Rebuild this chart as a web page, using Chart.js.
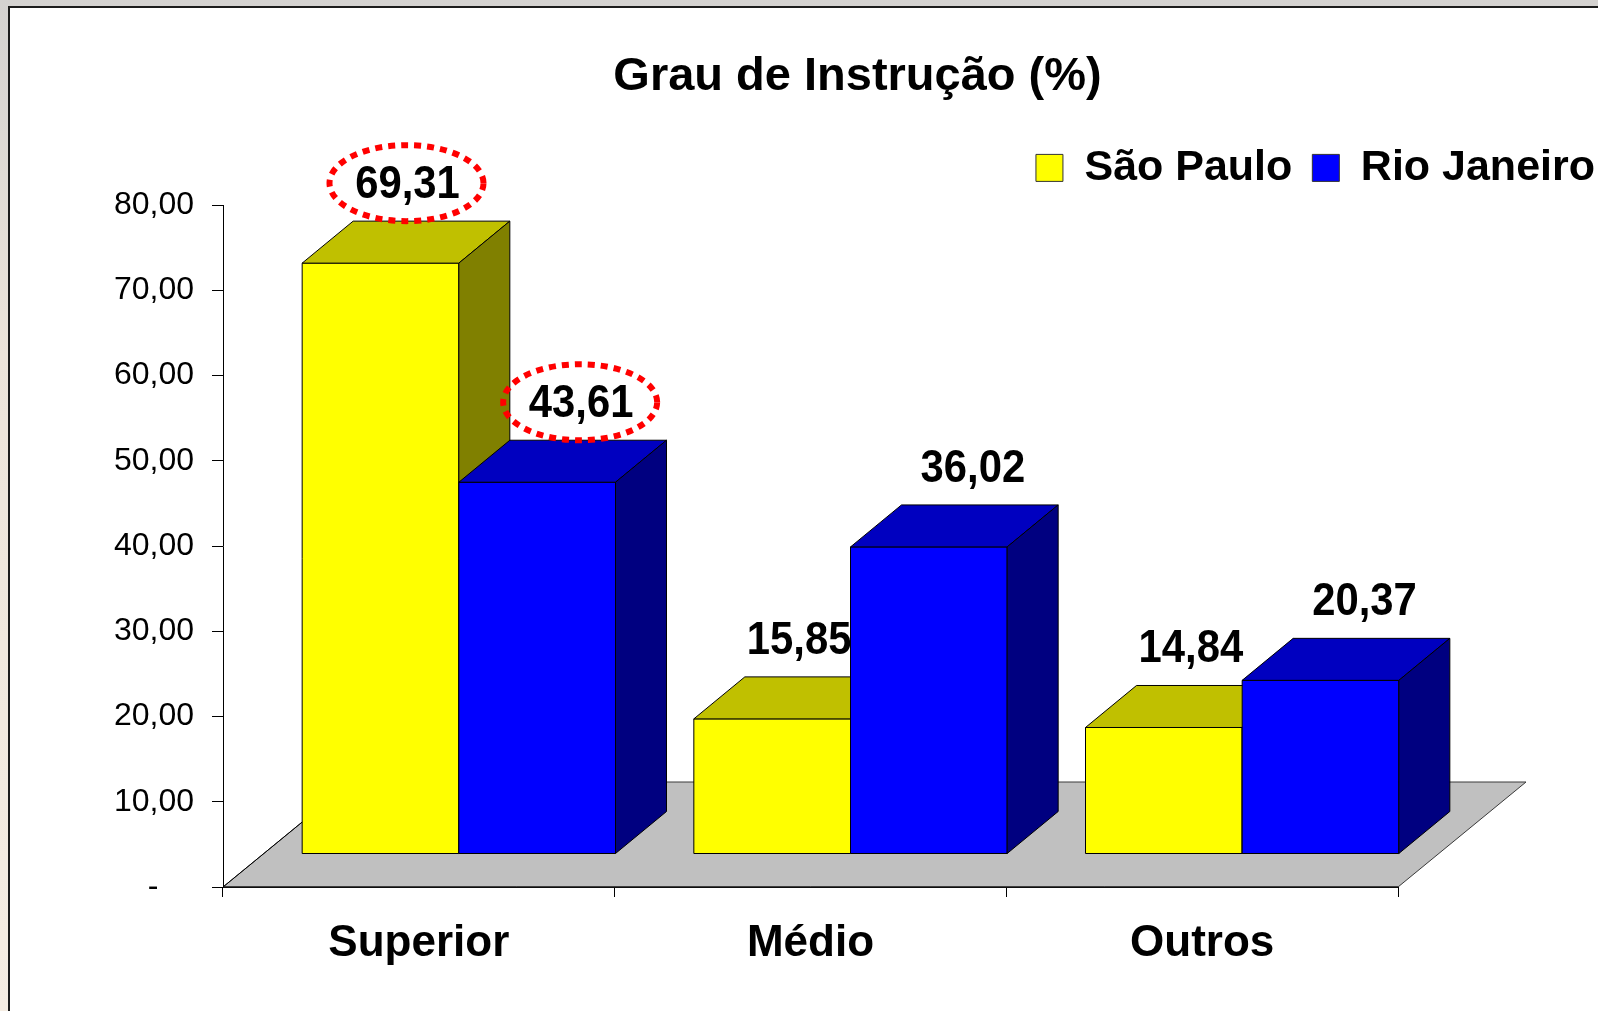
<!DOCTYPE html>
<html>
<head>
<meta charset="utf-8">
<script src="https://cdn.jsdelivr.net/npm/chart.js@4.4.1/dist/chart.umd.min.js"></script>
<style>
  html, body { margin: 0; padding: 0; background: #efe6da; }
  #wrap { width: 1598px; height: 1011px; }
</style>
</head>
<body>
<div id="wrap"><canvas id="chart" width="1598" height="1011"></canvas></div>
<script>
const categories = ['Superior', 'Médio', 'Outros'];
const seriesNames = ['São Paulo', 'Rio Janeiro'];
const saoPaulo = [69.31, 15.85, 14.84];
const rioJaneiro = [43.61, 36.02, 20.37];
const yTickLabels = ['-    ', '10,00', '20,00', '30,00', '40,00', '50,00', '60,00', '70,00', '80,00'];
const circledCategories = ['Superior'];

const fontFamily = '"Liberation Sans", Arial, Helvetica, sans-serif';

// 3d look, in pixels
const floorDepth = {dx: 128, dy: -105};
const barShift = {dx: 40, dy: -33};
const barDepth = {dx: 51, dy: -42};

const fmt = v => v.toFixed(2).replace('.', ',');

const backdrop = {
    id: 'backdrop',
    beforeDraw(chart) {
        const {ctx, width, height} = chart;
        ctx.save();
        const g = ctx.createLinearGradient(0, 0, 0, height);
        g.addColorStop(0, '#d4d2d0');
        g.addColorStop(0.35, '#ece4da');
        g.addColorStop(1, '#f5ede3');
        ctx.fillStyle = g;
        ctx.fillRect(0, 0, width, height);
        ctx.fillStyle = '#ffffff';
        ctx.fillRect(9, 7, width - 9, height - 7);
        ctx.strokeStyle = '#1c1c1c';
        ctx.lineWidth = 2;
        ctx.beginPath();
        ctx.moveTo(9, height);
        ctx.lineTo(9, 7);
        ctx.lineTo(width, 7);
        ctx.stroke();
        ctx.restore();
    }
};

const face = (ctx, pts, color) => {
    ctx.beginPath();
    ctx.moveTo(pts[0][0], pts[0][1]);
    for (let k = 1; k < pts.length; k++) ctx.lineTo(pts[k][0], pts[k][1]);
    ctx.closePath();
    ctx.fillStyle = color;
    ctx.fill();
    ctx.stroke();
};

const bars3d = {
    id: 'bars3d',
    beforeDatasetsDraw(chart) {
        const {ctx, chartArea, scales} = chart;
        const y0 = scales.y.getPixelForValue(0);
        const l = chartArea.left, r = chartArea.right;
        ctx.save();
        ctx.lineWidth = 1;
        ctx.strokeStyle = '#3a3a3a';
        face(ctx, [[l, y0], [r, y0], [r + floorDepth.dx, y0 + floorDepth.dy], [l + floorDepth.dx, y0 + floorDepth.dy]], '#c0c0c0');
        ctx.strokeStyle = '#000';
        ctx.beginPath();
        ctx.moveTo(l + floorDepth.dx, y0 + floorDepth.dy);
        ctx.lineTo(l, y0);
        ctx.lineTo(r, y0);
        ctx.stroke();
        ctx.restore();
    },
    beforeDatasetDraw() {
        return false;
    },
    afterDatasetsDraw(chart) {
        const {ctx} = chart;
        const metas = chart.getSortedVisibleDatasetMetas().slice().sort((a, b) => a.index - b.index);
        ctx.save();
        ctx.lineWidth = 1;
        ctx.strokeStyle = '#000';
        const labels = [];
        categories.forEach((cat, i) => {
            metas.forEach(meta => {
                const ds = chart.data.datasets[meta.index];
                const bar = meta.data[i];
                const {x, y, base, width} = bar.getProps(['x', 'y', 'base', 'width'], true);
                const L = x - width / 2 + barShift.dx, R = x + width / 2 + barShift.dx;
                const T = y + barShift.dy, B = base + barShift.dy;
                face(ctx, [[L, T], [R, T], [R, B], [L, B]], ds.backgroundColor);
                face(ctx, [[L, T], [L + barDepth.dx, T + barDepth.dy], [R + barDepth.dx, T + barDepth.dy], [R, T]], ds.topColor);
                face(ctx, [[R, T], [R + barDepth.dx, T + barDepth.dy], [R + barDepth.dx, B + barDepth.dy], [R, B]], ds.sideColor);
                labels.push({
                    text: fmt(ds.data[i]),
                    x: (L + R) / 2 + ds.labelDx,
                    y: T + barDepth.dy - 36,
                    circled: circledCategories.includes(cat)
                });
            });
        });

        // value labels, slightly condensed like the original
        const squeeze = 0.89;
        labels.forEach(lb => {
            if (lb.circled) {
                ctx.save();
                ctx.strokeStyle = '#ff0000';
                ctx.lineWidth = 6;
                ctx.setLineDash([7, 6]);
                ctx.beginPath();
                ctx.ellipse(lb.x - 1, lb.y - 2, 77, 38, 0, 0, Math.PI * 2);
                ctx.stroke();
                ctx.restore();
            }
            ctx.save();
            ctx.translate(lb.x, lb.y);
            ctx.scale(squeeze, 1);
            ctx.font = 'bold 47px ' + fontFamily;
            ctx.textAlign = 'center';
            ctx.textBaseline = 'middle';
            ctx.fillStyle = '#000';
            ctx.fillText(lb.text, 0, 0);
            ctx.restore();
        });
        ctx.restore();
    }
};

new Chart(document.getElementById('chart'), {
    type: 'bar',
    data: {
        labels: categories,
        datasets: [
            {
                label: seriesNames[0],
                data: saoPaulo,
                backgroundColor: '#ffff00',
                borderColor: '#333333',
                borderWidth: 1,
                topColor: '#c0c000',
                sideColor: '#808000',
                labelDx: 27
            },
            {
                label: seriesNames[1],
                data: rioJaneiro,
                backgroundColor: '#0000ff',
                borderColor: '#333333',
                borderWidth: 1,
                topColor: '#0000c0',
                sideColor: '#000080',
                labelDx: 44
            }
        ]
    },
    options: {
        responsive: false,
        devicePixelRatio: 1,
        animation: false,
        categoryPercentage: 0.8,
        barPercentage: 1.0,
        layout: {padding: {left: 100, right: -17, top: 0, bottom: 0}},
        plugins: {
            title: {
                display: true,
                text: 'Grau de Instrução (%)',
                color: '#000',
                font: {family: fontFamily, size: 47, weight: 'bold'},
                padding: {top: 49, bottom: 21}
            },
            subtitle: {
                display: true,
                text: '',
                weight: 500,
                font: {size: 1, lineHeight: 1},
                padding: {top: 0, bottom: 4.6}
            },
            legend: {
                position: 'top',
                align: 'end',
                labels: {
                    boxWidth: 27,
                    boxHeight: 27,
                    padding: 20,
                    color: '#000',
                    font: {family: fontFamily, size: 43, weight: 'bold'}
                }
            },
            tooltip: {enabled: false}
        },
        scales: {
            x: {
                offset: true,
                grid: {drawOnChartArea: false, drawTicks: true, tickLength: 10, color: '#000', offset: true},
                border: {display: true, color: '#000'},
                ticks: {
                    color: '#000',
                    padding: 20,
                    maxRotation: 0,
                    autoSkip: false,
                    font: {family: fontFamily, size: 44, weight: 'bold'}
                },
                afterFit: (scale) => {
                    scale.height = 124;
                    scale.paddingRight = 200;
                }
            },
            y: {
                min: 0,
                max: 80,
                grid: {drawOnChartArea: false, tickLength: 11, color: '#000'},
                border: {display: true, color: '#000'},
                ticks: {
                    stepSize: 10,
                    color: '#000',
                    padding: 18,
                    font: {family: fontFamily, size: 32},
                    callback: (value, index) => yTickLabels[index]
                },
                afterFit: (scale) => {
                    scale.width = 123;
                }
            }
        }
    },
    plugins: [backdrop, bars3d]
});
</script>
</body>
</html>
